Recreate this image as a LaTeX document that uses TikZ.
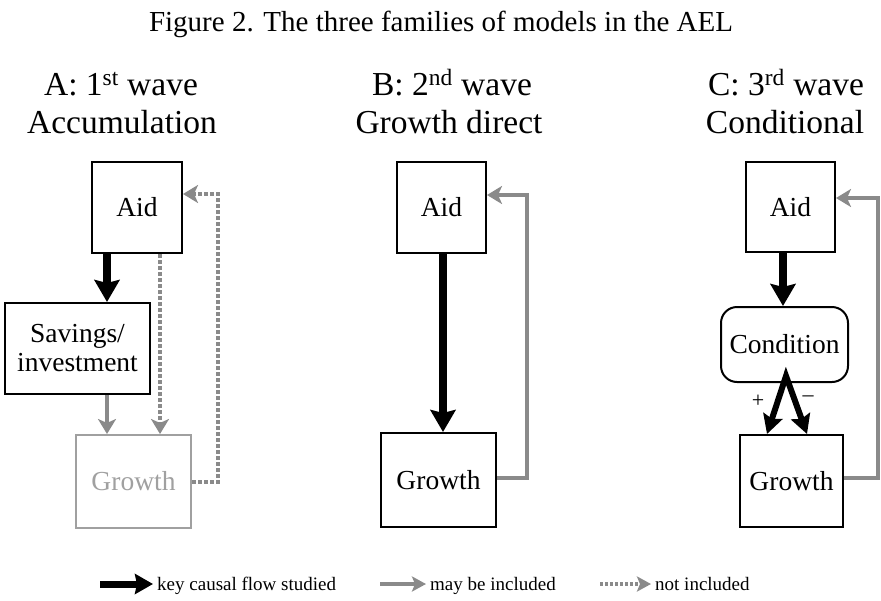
\documentclass[tikz,border=0pt]{standalone}
\usepackage{fontspec}
\setmainfont{Liberation Serif}
\usetikzlibrary{arrows.meta}
\definecolor{arrgray}{HTML}{8A8A8A}
\definecolor{boxgray}{HTML}{A0A0A0}
\tikzset{
  box/.style={draw, line width=2pt, inner sep=0pt, font=\fontsize{27.5}{30}\selectfont, align=center},
  graybox/.style={box, draw=boxgray, text=boxgray},
  hdr/.style={anchor=base, inner sep=0pt, font=\fontsize{33.5}{38}\selectfont},
  legtext/.style={anchor=base west, inner sep=0pt, font=\fontsize{19}{22}\selectfont},
  blk/.style={line width=7.5pt, -{Stealth[length=22pt,width=25pt,inset=3pt]}},
  gry/.style={draw=arrgray, line width=3.5pt, -{Stealth[length=15pt,width=18pt,inset=4pt]}},
  dotgry/.style={gry, dash pattern=on 4pt off 2pt},
  forkarr/.style={line width=6pt, line join=miter, {Stealth[length=19pt,width=20pt,inset=3pt]}-{Stealth[length=19pt,width=20pt,inset=3pt]}},
  legblk/.style={line width=7pt, -{Stealth[length=18pt,width=20pt,inset=2pt]}},
  leggry/.style={draw=arrgray, line width=4pt, -{Stealth[length=14pt,width=15pt,inset=3pt]}},
  legdot/.style={leggry, dash pattern=on 3pt off 2pt},
  sign/.style={inner sep=0pt, font=\fontsize{22}{24}\selectfont}
}
\begin{document}
\begin{tikzpicture}[x=1pt,y=-1pt]
\useasboundingbox (0,0) rectangle (881,600);
% title
\node[anchor=base, inner sep=0pt, font=\fontsize{29}{32}\selectfont] (title) at (441,31) {Figure 2. The three families of models in the AEL};
% headers
\node[hdr] (hA1) at (121,95) {A: 1\textsuperscript{st} wave};
\node[hdr] (hA2) at (122,133) {Accumulation};
\node[hdr] (hB1) at (452,95) {B: 2\textsuperscript{nd} wave};
\node[hdr] (hB2) at (449,133) {Growth direct};
\node[hdr] (hC1) at (786,95) {C: 3\textsuperscript{rd} wave};
\node[hdr] (hC2) at (785,133) {Conditional};
% panel A
\node[box, minimum width=90pt, minimum height=91pt] (aidA) at (137,207.5) {Aid};
\node[box, minimum width=145pt, minimum height=91pt] (savA) at (77.5,348.5) {Savings/\\[-1pt]investment};
\node[graybox, minimum width=115pt, minimum height=93pt] (grA) at (133.5,481.5) {Growth};
\coordinate (xa1) at (107,0);
\coordinate (xa2) at (160,0);
\coordinate (fa1) at (218,482);
\coordinate (fa2) at (218,194);
\draw[blk] (aidA.south -| xa1) -- (savA.north -| xa1);
\draw[gry] (savA.south -| xa1) -- (grA.north -| xa1);
\draw[dotgry] (aidA.south -| xa2) -- (grA.north -| xa2);
\draw[dotgry] (grA.east |- fa1) -- (fa1) -- (fa2) -- (aidA.east |- fa2);
% panel B
\node[box, minimum width=89pt, minimum height=91pt] (aidB) at (441.5,207.5) {Aid};
\node[box, minimum width=115pt, minimum height=94pt] (grB) at (438.5,480) {Growth};
\coordinate (xb) at (443,0);
\coordinate (fb1) at (527,478);
\coordinate (fb2) at (527,195);
\draw[blk] (aidB.south -| xb) -- (grB.north -| xb);
\draw[gry] (grB.east |- fb1) -- (fb1) -- (fb2) -- (aidB.east |- fb2);
% panel C
\node[box, minimum width=89pt, minimum height=90pt] (aidC) at (790.5,207) {Aid};
\node[box, minimum width=127pt, minimum height=75pt, rounded corners=16pt] (cond) at (784.5,344.5) {Condition};
\node[box, minimum width=103pt, minimum height=92pt] (grC) at (791.5,481) {Growth};
\coordinate (xc) at (783,0);
\coordinate (apex) at (786,376);
\coordinate (xl) at (767,0);
\coordinate (xr) at (807,0);
\coordinate (fc1) at (878,478);
\coordinate (fc2) at (878,198);
\draw[blk] (aidC.south -| xc) -- (cond.north -| xc);
\draw[forkarr] (grC.north -| xl) -- (apex) -- (grC.north -| xr);
\node[sign] (plus) at (758,401) {+};
\node[sign] (minus) at (808,399) {\textendash};
\draw[gry] (grC.east |- fc1) -- (fc1) -- (fc2) -- (aidC.east |- fc2);
% legend
\coordinate (l1a) at (100,584);
\coordinate (l1b) at (153,584);
\coordinate (l2a) at (380,584);
\coordinate (l2b) at (426,584);
\coordinate (l3a) at (600,584);
\coordinate (l3b) at (651,584);
\draw[legblk] (l1a) -- (l1b);
\node[legtext] (t1) at (157,590) {key causal flow studied};
\draw[leggry] (l2a) -- (l2b);
\node[legtext] (t2) at (430,590) {may be included};
\draw[legdot] (l3a) -- (l3b);
\node[legtext] (t3) at (655,590) {not included};
\end{tikzpicture}
\end{document}
